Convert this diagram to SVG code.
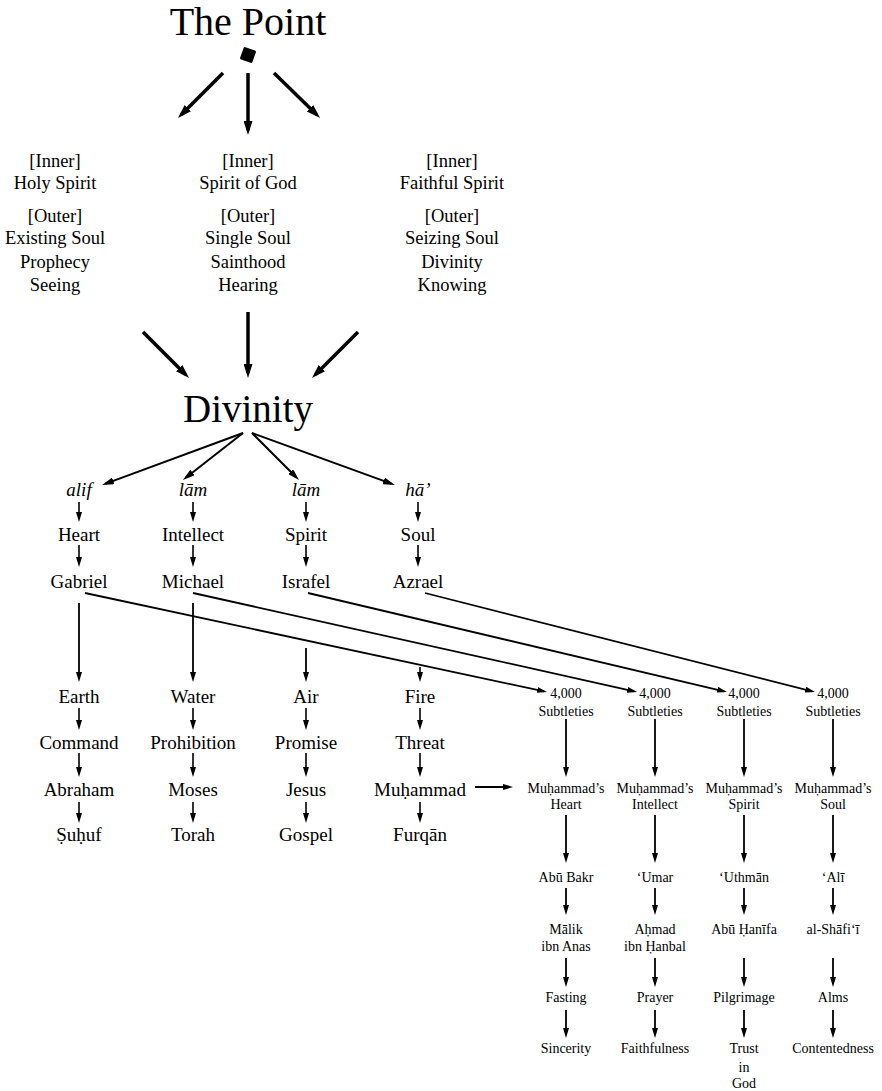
<svg xmlns="http://www.w3.org/2000/svg" width="882" height="1091" viewBox="0 0 882 1091">
<style>
text{font-family:"Liberation Serif","DejaVu Serif",serif;fill:#000;text-anchor:middle}
.title{font-size:40px}
.top{font-size:18.5px}
.mid{font-size:19px}
.it{font-style:italic}
.sm{font-size:14px}
.c{fill:none;stroke:#000;stroke-linecap:butt}
.w35{stroke-width:3.5}
.w2{stroke-width:2}
.w18{stroke-width:1.8}
.w16{stroke-width:1.6}
</style>
<defs>
<marker id="big" markerUnits="userSpaceOnUse" viewBox="0 0 14 9" markerWidth="14" markerHeight="9" refX="9" refY="4.5" orient="auto"><path d="M0,0L14,4.5L0,9z" fill="#000"/></marker>
<marker id="med" markerUnits="userSpaceOnUse" viewBox="0 0 12 7" markerWidth="12" markerHeight="7" refX="8" refY="3.5" orient="auto"><path d="M0,0L12,3.5L0,7z" fill="#000"/></marker>
<marker id="sm" markerUnits="userSpaceOnUse" viewBox="0 0 10 6" markerWidth="10" markerHeight="6" refX="7" refY="3" orient="auto"><path d="M0,0L10,3L0,6z" fill="#000"/></marker>
</defs>
<rect width="882" height="1091" fill="#fff"/>

<g id="the-point"><text class="title" x="248" y="35">The Point</text><rect x="241.5" y="48.5" width="13" height="13" rx="1.5" fill="#000" transform="rotate(20 248 55)"/></g>

<g id="col-left-top"><text class="top" x="55" y="167">[Inner]</text><text class="top" x="55" y="189">Holy Spirit</text><text class="top" x="55" y="222">[Outer]</text><text class="top" x="55" y="244">Existing Soul</text><text class="top" x="55" y="268">Prophecy</text><text class="top" x="55" y="291">Seeing</text></g>
<g id="col-center-top"><text class="top" x="248" y="167">[Inner]</text><text class="top" x="248" y="189">Spirit of God</text><text class="top" x="248" y="222">[Outer]</text><text class="top" x="248" y="244">Single Soul</text><text class="top" x="248" y="268">Sainthood</text><text class="top" x="248" y="291">Hearing</text></g>
<g id="col-right-top"><text class="top" x="452" y="167">[Inner]</text><text class="top" x="452" y="189">Faithful Spirit</text><text class="top" x="452" y="222">[Outer]</text><text class="top" x="452" y="244">Seizing Soul</text><text class="top" x="452" y="268">Divinity</text><text class="top" x="452" y="291">Knowing</text></g>

<g id="divinity"><text class="title" style="font-size:39px" x="248" y="422">Divinity</text></g>

<g id="alif"><text class="mid it" x="79" y="496">alif</text></g>
<g id="lam1"><text class="mid it" x="193" y="496">lām</text></g>
<g id="lam2"><text class="mid it" x="306" y="496">lām</text></g>
<g id="ha"><text class="mid it" x="418" y="496">hā’</text></g>
<g id="heart"><text class="mid" x="79" y="541">Heart</text></g>
<g id="intellect"><text class="mid" x="193" y="541">Intellect</text></g>
<g id="spirit"><text class="mid" x="306" y="541">Spirit</text></g>
<g id="soul"><text class="mid" x="418" y="541">Soul</text></g>
<g id="gabriel"><text class="mid" x="79" y="588">Gabriel</text></g>
<g id="michael"><text class="mid" x="193" y="588">Michael</text></g>
<g id="israfel"><text class="mid" x="306" y="588">Israfel</text></g>
<g id="azrael"><text class="mid" x="418" y="588">Azrael</text></g>

<g id="earth"><text class="mid" x="79" y="703">Earth</text></g>
<g id="water"><text class="mid" x="193" y="703">Water</text></g>
<g id="air"><text class="mid" x="306" y="703">Air</text></g>
<g id="fire"><text class="mid" x="420" y="703">Fire</text></g>
<g id="command"><text class="mid" x="79" y="749">Command</text></g>
<g id="prohibition"><text class="mid" x="193" y="749">Prohibition</text></g>
<g id="promise"><text class="mid" x="306" y="749">Promise</text></g>
<g id="threat"><text class="mid" x="420" y="749">Threat</text></g>
<g id="abraham"><text class="mid" x="79" y="796">Abraham</text></g>
<g id="moses"><text class="mid" x="193" y="796">Moses</text></g>
<g id="jesus"><text class="mid" x="306" y="796">Jesus</text></g>
<g id="muhammad"><text class="mid" x="420" y="796">Muḥammad</text></g>
<g id="suhuf"><text class="mid" x="79" y="841">Ṣuḥuf</text></g>
<g id="torah"><text class="mid" x="193" y="841">Torah</text></g>
<g id="gospel"><text class="mid" x="306" y="841">Gospel</text></g>
<g id="furqan"><text class="mid" x="420" y="841">Furqān</text></g>

<g id="subtleties-1"><text class="sm" x="566" y="698">4,000</text><text class="sm" x="566" y="716">Subtleties</text></g>
<g id="subtleties-2"><text class="sm" x="655" y="698">4,000</text><text class="sm" x="655" y="716">Subtleties</text></g>
<g id="subtleties-3"><text class="sm" x="744" y="698">4,000</text><text class="sm" x="744" y="716">Subtleties</text></g>
<g id="subtleties-4"><text class="sm" x="833" y="698">4,000</text><text class="sm" x="833" y="716">Subtleties</text></g>
<g id="m-heart"><text class="sm" x="566" y="793">Muḥammad’s</text><text class="sm" x="566" y="809">Heart</text></g>
<g id="m-intellect"><text class="sm" x="655" y="793">Muḥammad’s</text><text class="sm" x="655" y="809">Intellect</text></g>
<g id="m-spirit"><text class="sm" x="744" y="793">Muḥammad’s</text><text class="sm" x="744" y="809">Spirit</text></g>
<g id="m-soul"><text class="sm" x="833" y="793">Muḥammad’s</text><text class="sm" x="833" y="809">Soul</text></g>
<g id="abu-bakr"><text class="sm" x="566" y="882">Abū Bakr</text></g>
<g id="umar"><text class="sm" x="655" y="882">‘Umar</text></g>
<g id="uthman"><text class="sm" x="744" y="882">‘Uthmān</text></g>
<g id="ali"><text class="sm" x="833" y="882">‘Alī</text></g>
<g id="malik"><text class="sm" x="566" y="934">Mālik</text><text class="sm" x="566" y="951">ibn Anas</text></g>
<g id="ahmad"><text class="sm" x="655" y="934">Aḥmad</text><text class="sm" x="655" y="951">ibn Ḥanbal</text></g>
<g id="abu-hanifa"><text class="sm" x="744" y="934">Abū Ḥanīfa</text></g>
<g id="shafii"><text class="sm" x="833" y="934">al-Shāfi‘ī</text></g>
<g id="fasting"><text class="sm" x="566" y="1002">Fasting</text></g>
<g id="prayer"><text class="sm" x="655" y="1002">Prayer</text></g>
<g id="pilgrimage"><text class="sm" x="744" y="1002">Pilgrimage</text></g>
<g id="alms"><text class="sm" x="833" y="1002">Alms</text></g>
<g id="sincerity"><text class="sm" x="566" y="1053">Sincerity</text></g>
<g id="faithfulness"><text class="sm" x="655" y="1053">Faithfulness</text></g>
<g id="trust"><text class="sm" x="744" y="1053">Trust</text><text class="sm" x="744" y="1072">in</text><text class="sm" x="744" y="1088">God</text></g>
<g id="contentedness"><text class="sm" x="833" y="1053">Contentedness</text></g>

<g id="connectors">
<line class="c w35" x1="223" y1="73" x2="181.5" y2="114.5" marker-end="url(#big)"/>
<line class="c w35" x1="248" y1="73" x2="248" y2="130" marker-end="url(#big)"/>
<line class="c w35" x1="274" y1="73" x2="316.5" y2="114.5" marker-end="url(#big)"/>
<line class="c w35" x1="143" y1="332" x2="185.5" y2="374.5" marker-end="url(#big)"/>
<line class="c w35" x1="248" y1="312" x2="248" y2="373" marker-end="url(#big)"/>
<line class="c w35" x1="358" y1="332" x2="315.5" y2="374.5" marker-end="url(#big)"/>

<line class="c w2" x1="243" y1="433" x2="105.8" y2="483.6" marker-end="url(#med)"/>
<line class="c w2" x1="243" y1="433" x2="186.1" y2="477.5" marker-end="url(#med)"/>
<line class="c w2" x1="252" y1="433" x2="296.2" y2="477.2" marker-end="url(#med)"/>
<line class="c w2" x1="252" y1="433" x2="391.2" y2="483.6" marker-end="url(#med)"/>

<g class="c w16">
<line x1="79" y1="502" x2="79" y2="519" marker-end="url(#sm)"/>
<line x1="193" y1="502" x2="193" y2="519" marker-end="url(#sm)"/>
<line x1="306" y1="502" x2="306" y2="519" marker-end="url(#sm)"/>
<line x1="418" y1="502" x2="418" y2="519" marker-end="url(#sm)"/>
<line x1="79" y1="545" x2="79" y2="564" marker-end="url(#sm)"/>
<line x1="193" y1="545" x2="193" y2="564" marker-end="url(#sm)"/>
<line x1="306" y1="545" x2="306" y2="564" marker-end="url(#sm)"/>
<line x1="418" y1="545" x2="418" y2="564" marker-end="url(#sm)"/>

<line x1="79" y1="708" x2="79" y2="727" marker-end="url(#sm)"/>
<line x1="193" y1="708" x2="193" y2="727" marker-end="url(#sm)"/>
<line x1="306" y1="708" x2="306" y2="727" marker-end="url(#sm)"/>
<line x1="420" y1="708" x2="420" y2="727" marker-end="url(#sm)"/>
<line x1="79" y1="753" x2="79" y2="774" marker-end="url(#sm)"/>
<line x1="193" y1="753" x2="193" y2="774" marker-end="url(#sm)"/>
<line x1="306" y1="753" x2="306" y2="774" marker-end="url(#sm)"/>
<line x1="420" y1="753" x2="420" y2="774" marker-end="url(#sm)"/>
<line x1="79" y1="802" x2="79" y2="820" marker-end="url(#sm)"/>
<line x1="193" y1="802" x2="193" y2="820" marker-end="url(#sm)"/>
<line x1="306" y1="802" x2="306" y2="820" marker-end="url(#sm)"/>
<line x1="420" y1="802" x2="420" y2="820" marker-end="url(#sm)"/>
<line x1="420" y1="667" x2="420" y2="679" marker-end="url(#sm)"/>
</g>

<g class="c w18">
<line x1="79" y1="603" x2="79" y2="679" marker-end="url(#sm)"/>
<line x1="193" y1="603" x2="193" y2="679" marker-end="url(#sm)"/>
<line x1="306" y1="648" x2="306" y2="679" marker-end="url(#sm)"/>

<line x1="85" y1="593" x2="544.1" y2="691.4" marker-end="url(#sm)"/>
<line x1="193" y1="593" x2="634.1" y2="691.3" marker-end="url(#sm)"/>
<line x1="308" y1="593" x2="724.1" y2="691.3" marker-end="url(#sm)"/>
<line x1="425" y1="593" x2="812.1" y2="691.3" marker-end="url(#sm)"/>

<line x1="475" y1="787" x2="510" y2="787" marker-end="url(#sm)"/>

<line x1="566" y1="719" x2="566" y2="774" marker-end="url(#sm)"/>
<line x1="655" y1="719" x2="655" y2="774" marker-end="url(#sm)"/>
<line x1="744" y1="719" x2="744" y2="774" marker-end="url(#sm)"/>
<line x1="833" y1="719" x2="833" y2="774" marker-end="url(#sm)"/>
<line x1="566" y1="815" x2="566" y2="860" marker-end="url(#sm)"/>
<line x1="655" y1="815" x2="655" y2="860" marker-end="url(#sm)"/>
<line x1="744" y1="815" x2="744" y2="860" marker-end="url(#sm)"/>
<line x1="833" y1="815" x2="833" y2="860" marker-end="url(#sm)"/>
<line x1="566" y1="888" x2="566" y2="912" marker-end="url(#sm)"/>
<line x1="655" y1="888" x2="655" y2="912" marker-end="url(#sm)"/>
<line x1="744" y1="888" x2="744" y2="912" marker-end="url(#sm)"/>
<line x1="833" y1="888" x2="833" y2="912" marker-end="url(#sm)"/>
<line x1="566" y1="958" x2="566" y2="984" marker-end="url(#sm)"/>
<line x1="655" y1="958" x2="655" y2="984" marker-end="url(#sm)"/>
<line x1="744" y1="958" x2="744" y2="984" marker-end="url(#sm)"/>
<line x1="833" y1="958" x2="833" y2="984" marker-end="url(#sm)"/>
<line x1="566" y1="1010" x2="566" y2="1035" marker-end="url(#sm)"/>
<line x1="655" y1="1010" x2="655" y2="1035" marker-end="url(#sm)"/>
<line x1="744" y1="1010" x2="744" y2="1035" marker-end="url(#sm)"/>
<line x1="833" y1="1010" x2="833" y2="1035" marker-end="url(#sm)"/>
</g>
</g>
</svg>
